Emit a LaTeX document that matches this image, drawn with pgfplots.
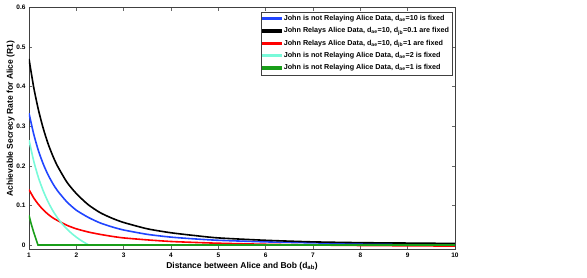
\documentclass[border=0pt]{standalone}
\usepackage{fontspec}
\setmainfont{Liberation Sans}
\usepackage{pgfplots}
\pgfplotsset{compat=1.18}
\definecolor{mblue}{rgb}{0.13,0.27,1}
\definecolor{mred}{rgb}{1,0,0}
\definecolor{mcyan}{rgb}{0.47,0.98,0.85}
\definecolor{mgreen}{rgb}{0.1,0.62,0.1}
\begin{document}
\begin{tikzpicture}
\begin{axis}[
  at={(0,0)}, anchor=south west,
  scale only axis, width=426pt, height=241.5pt,
  xmin=1, xmax=10, ymin=-0.01, ymax=0.6,
  xtick={1,2,3,4,5,6,7,8,9,10},
  ytick={0,0.1,0.2,0.3,0.4,0.5,0.6},
  yticklabels={0,0.1,0.2,0.3,0.4,0.5,0.6},
  tick align=inside, tick pos=both, major tick length=3pt,
  axis line style={black!75},
  every tick/.style={black!60},
  tick label style={font=\fontsize{6.5}{7}\selectfont\bfseries},
  /pgf/number format/assume math mode=true,
  xlabel={Distance between Alice and Bob (d\textsubscript{ab})},
  ylabel={Achievable Secrecy Rate for Alice (R1)},
  label style={font=\fontsize{8.5}{10}\selectfont\bfseries},
  xlabel style={at={(axis description cs:0.5,-0.0787)}, anchor=base},
  ylabel style={at={(axis description cs:-0.0376,0.54)}, anchor=base},
  legend style={at={(0.9946,0.9826)}, anchor=north east, draw=black!75, fill=white,
    font=\fontsize{7.2}{8}\selectfont\bfseries, inner sep=1.5pt, row sep=1.6pt},
  legend cell align=left,
  legend image code/.code={\fill[#1] (0pt,-0.85pt) rectangle (18pt,0.85pt);},
]
\addplot[color=mblue, line width=1.6pt, smooth, tension=0.4] coordinates {(1,0.333)(1.1,0.280)(1.2,0.238)(1.3,0.205)(1.4,0.178)(1.5,0.156)(1.6,0.1375)(1.8,0.109)(2,0.088)(2.25,0.070)(2.5,0.056)(2.75,0.046)(3,0.038)(3.5,0.027)(4,0.020)(4.5,0.0155)(5,0.012)(6,0.008)(7,0.0055)(8,0.004)(9,0.003)(10,0.0025)};
\addlegendentry{John is not Relaying Alice Data, d\textsubscript{ae}=10 is fixed}
\addplot[color=black, line width=1.6pt, smooth, tension=0.4] coordinates {(1,0.470)(1.1,0.398)(1.2,0.341)(1.3,0.295)(1.4,0.257)(1.5,0.226)(1.6,0.200)(1.8,0.159)(2,0.130)(2.25,0.102)(2.5,0.082)(2.75,0.068)(3,0.057)(3.5,0.041)(4,0.031)(4.5,0.024)(5,0.018)(6,0.012)(7,0.008)(8,0.006)(9,0.005)(10,0.004)};
\addlegendentry{John Relays Alice Data, d\textsubscript{ae}=10, d\textsubscript{jb}=0.1 are fixed}
\addplot[color=mred, line width=1.6pt, smooth, tension=0.4] coordinates {(1,0.140)(1.1,0.119)(1.2,0.1025)(1.3,0.089)(1.4,0.078)(1.5,0.069)(1.6,0.062)(1.8,0.050)(2,0.041)(2.25,0.033)(2.5,0.027)(2.75,0.022)(3,0.018)(3.5,0.013)(4,0.009)(4.5,0.0066)(5,0.0046)(6,0.0019)(7,0.0001)(8,-0.0011)(9,-0.0019)(10,-0.0026)};
\addlegendentry{John Relays Alice Data, d\textsubscript{ae}=10, d\textsubscript{jb}=1 are fixed}
\addplot[color=mcyan, line width=1.6pt, smooth, tension=0.4] coordinates {(1,0.265)(1.1,0.212)(1.2,0.170)(1.3,0.137)(1.4,0.110)(1.5,0.0875)(1.6,0.069)(1.7,0.0537)(1.8,0.0406)(1.9,0.0295)(2,0.0199)(2.1,0.0116)(2.2,0.0043)(2.266,0)};
\addlegendentry{John is not Relaying Alice Data, d\textsubscript{ae}=2 is fixed}
\addplot[color=mcyan, line width=1.6pt, forget plot] coordinates {(2.266,0)(10,0)};
\addplot[color=mgreen, line width=1.6pt] coordinates {(1,0.075)(1.05,0.052)(1.1,0.032)(1.15,0.014)(1.19,0)(10,0)};
\addlegendentry{John is not Relaying Alice Data, d\textsubscript{ae}=1 is fixed}
\end{axis}
\pgfresetboundingbox
\path (-29pt,-28pt) rectangle (558pt,249pt);
\end{tikzpicture}
\end{document}
